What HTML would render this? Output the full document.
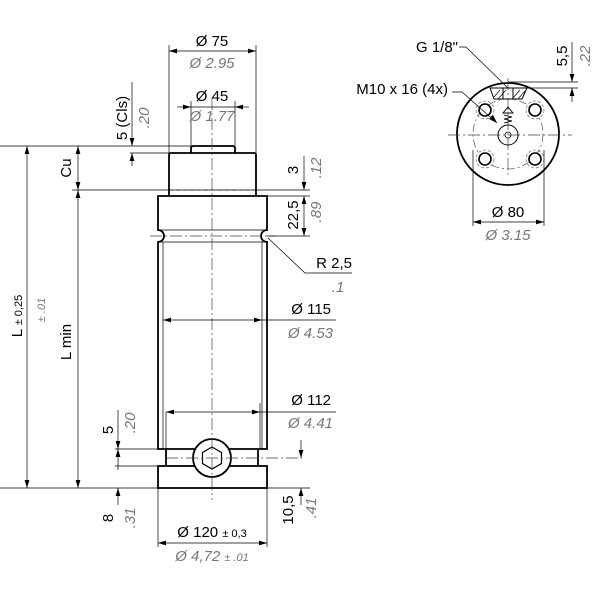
<!DOCTYPE html>
<html><head><meta charset="utf-8"><style>
html,body{margin:0;padding:0;background:#fff}
svg{display:block}
text{font-family:"Liberation Sans",sans-serif;font-size:15px;fill:#000}
.g{fill:#777;font-style:italic}
.s{font-size:11px}
.t{stroke:#000;stroke-width:0.7;fill:none}
.k{stroke:#000;stroke-width:1.8;fill:none}
.c{stroke:#444;stroke-width:0.7;fill:none;stroke-dasharray:12 3 2 3}
.d{stroke:#444;stroke-width:0.8;fill:none;stroke-dasharray:4 3}
</style></head><body>
<svg width="600" height="600" viewBox="0 0 600 600" xmlns="http://www.w3.org/2000/svg">
<defs>
<marker id="a" viewBox="0 0 10 6" refX="10" refY="3" markerWidth="8" markerHeight="5" orient="auto-start-reverse" markerUnits="userSpaceOnUse"><path d="M0,0 L10,3 L0,6 z" fill="#000"/></marker>
</defs>

<!-- main part -->
<path class="k" d="M191,153 L191,148 Q191,146 194,146 L232,146 Q235,146 235,148 L235,153"/>
<path class="k" d="M169,196 L169,155 Q169,153 171,153 L254,153 Q256,153 256,155 L256,196"/>
<line class="d" x1="169" y1="190" x2="256" y2="190"/>
<path class="k" d="M158,230 L158,196 L267,196 L267,230 A6,6 0 0 0 267,242 L267,449 L158,449 L158,242 A6,6 0 0 0 158,230 Z"/>
<line class="t" x1="158" y1="230" x2="267" y2="230"/>
<line class="t" x1="158" y1="242" x2="267" y2="242"/>
<line class="t" x1="163" y1="242" x2="163" y2="449"/>
<line class="t" x1="262" y1="242" x2="262" y2="449"/>
<line class="c" x1="150" y1="236" x2="275" y2="236"/>
<path class="k" d="M166,449 L166,466 M258,449 L258,466"/>
<rect class="k" x="158" y="466" width="109" height="22"/>
<circle cx="212" cy="458" r="19" fill="#fff" stroke="#000" stroke-width="1.8"/>
<polygon class="k" style="stroke-width:1.2" points="212,447 221.5,452.5 221.5,463.5 212,469 202.5,463.5 202.5,452.5"/>
<line class="c" x1="166" y1="458" x2="302" y2="458"/>
<line class="c" x1="212" y1="98" x2="212" y2="500"/>

<!-- Ø75 -->
<line class="t" x1="169" y1="45" x2="169" y2="153"/>
<line class="t" x1="256" y1="45" x2="256" y2="153"/>
<line class="t" x1="169" y1="51" x2="256" y2="51" marker-start="url(#a)" marker-end="url(#a)"/>
<text x="212" y="46" text-anchor="middle">Ø 75</text>
<text x="212" y="68" text-anchor="middle" class="g">Ø 2.95</text>
<!-- Ø45 -->
<line class="t" x1="191" y1="101" x2="191" y2="146"/>
<line class="t" x1="235" y1="101" x2="235" y2="146"/>
<line class="t" x1="177" y1="107" x2="191" y2="107" marker-end="url(#a)"/>
<line class="t" x1="249" y1="107" x2="235" y2="107" marker-end="url(#a)"/>
<line class="t" x1="191" y1="107" x2="235" y2="107"/>
<text x="212" y="101" text-anchor="middle">Ø 45</text>
<text x="212" y="121" text-anchor="middle" class="g">Ø 1.77</text>
<!-- 5 (Cls) -->
<line class="t" x1="0" y1="146" x2="191" y2="146"/>
<line class="t" x1="130" y1="153" x2="169" y2="153"/>
<line class="t" x1="132" y1="82" x2="132" y2="146" marker-end="url(#a)"/>
<line class="t" x1="132" y1="166" x2="132" y2="153" marker-end="url(#a)"/>
<text transform="translate(127,118) rotate(-90)" text-anchor="middle">5 (Cls)</text>
<text transform="translate(149,118) rotate(-90)" text-anchor="middle" class="g">.20</text>

<!-- left dims -->
<line class="t" x1="72" y1="190" x2="310" y2="190"/>
<line class="t" x1="0" y1="488" x2="310" y2="488"/>
<line class="t" x1="27" y1="146" x2="27" y2="488" marker-start="url(#a)" marker-end="url(#a)"/>
<text transform="translate(22,316) rotate(-90)" text-anchor="middle">L <tspan class="s">± 0,25</tspan></text>
<text transform="translate(45,310) rotate(-90)" text-anchor="middle" class="g s">± .01</text>
<line class="t" x1="78" y1="146" x2="78" y2="190" marker-start="url(#a)" marker-end="url(#a)"/>
<line class="t" x1="78" y1="190" x2="78" y2="488" marker-start="url(#a)" marker-end="url(#a)"/>
<text transform="translate(71,168) rotate(-90)" text-anchor="middle">Cu</text>
<text transform="translate(71,342) rotate(-90)" text-anchor="middle">L min</text>
<!-- 5 / .20 bottom -->
<line class="t" x1="115" y1="449" x2="158" y2="449"/>
<line class="t" x1="115" y1="466" x2="158" y2="466"/>
<line class="t" x1="118" y1="410" x2="118" y2="449" marker-end="url(#a)"/>
<line class="t" x1="118" y1="466" x2="118" y2="449" marker-end="url(#a)"/>
<text transform="translate(113,430) rotate(-90)" text-anchor="middle">5</text>
<text transform="translate(135,423) rotate(-90)" text-anchor="middle" class="g">.20</text>
<!-- 8 / .31 -->
<line class="t" x1="118" y1="505" x2="118" y2="488" marker-end="url(#a)"/>
<line class="t" x1="118" y1="466" x2="118" y2="470"/>
<text transform="translate(113,518) rotate(-90)" text-anchor="middle">8</text>
<text transform="translate(135,518) rotate(-90)" text-anchor="middle" class="g">.31</text>

<!-- right dims: 3 / 22,5 -->
<line class="t" x1="267" y1="196" x2="310" y2="196"/>
<line class="t" x1="267" y1="236" x2="310" y2="236"/>
<line class="t" x1="304" y1="156" x2="304" y2="190" marker-end="url(#a)"/>
<line class="t" x1="304" y1="196" x2="304" y2="236" marker-start="url(#a)" marker-end="url(#a)"/>
<text transform="translate(298,170) rotate(-90)" text-anchor="middle">3</text>
<text transform="translate(321,168) rotate(-90)" text-anchor="middle" class="g">.12</text>
<text transform="translate(298,215) rotate(-90)" text-anchor="middle">22,5</text>
<text transform="translate(321,212) rotate(-90)" text-anchor="middle" class="g">.89</text>
<!-- R 2,5 -->
<polyline class="t" points="268,238 305,273 352,273"/>
<text x="352" y="268" text-anchor="end">R 2,5</text>
<text x="338" y="292" text-anchor="middle" class="g">.1</text>
<!-- Ø115 -->
<line class="t" x1="163" y1="320" x2="262" y2="320" marker-start="url(#a)" marker-end="url(#a)"/>
<line class="t" x1="262" y1="320" x2="336" y2="320"/>
<text x="331" y="314" text-anchor="end">Ø 115</text>
<text x="333" y="338" text-anchor="end" class="g">Ø 4.53</text>
<!-- Ø112 -->
<line class="t" x1="166" y1="412" x2="166" y2="449"/>
<line class="t" x1="260" y1="403" x2="260" y2="449"/>
<line class="t" x1="166" y1="412" x2="260" y2="412" marker-start="url(#a)" marker-end="url(#a)"/>
<line class="t" x1="260" y1="412" x2="336" y2="412"/>
<text x="331" y="405" text-anchor="end">Ø 112</text>
<text x="333" y="428" text-anchor="end" class="g">Ø 4.41</text>
<!-- 10,5 -->
<line class="t" x1="301" y1="440" x2="301" y2="458" marker-end="url(#a)"/>
<line class="t" x1="301" y1="505" x2="301" y2="488" marker-end="url(#a)"/>
<text transform="translate(293,510) rotate(-90)" text-anchor="middle">10,5</text>
<text transform="translate(316,508) rotate(-90)" text-anchor="middle" class="g">.41</text>
<!-- Ø120 -->
<line class="t" x1="158" y1="488" x2="158" y2="547"/>
<line class="t" x1="267" y1="488" x2="267" y2="547"/>
<line class="t" x1="158" y1="543" x2="267" y2="543" marker-start="url(#a)" marker-end="url(#a)"/>
<text x="212" y="537" text-anchor="middle">Ø 120 <tspan class="s">± 0,3</tspan></text>
<text x="212" y="561" text-anchor="middle" class="g">Ø 4,72 <tspan class="s">± .01</tspan></text>

<!-- top view -->
<circle cx="508" cy="134" r="51" fill="none" stroke="#000" stroke-width="1.8"/>
<circle cx="508" cy="134" r="35" fill="none" stroke="#555" stroke-width="0.7" stroke-dasharray="8 3 2 3"/>
<line class="c" x1="448" y1="135" x2="572" y2="135"/>
<line class="c" x1="508" y1="78" x2="508" y2="178"/>
<g fill="#fff" stroke="#000" stroke-width="1.6">
<circle cx="485" cy="110" r="6"/><circle cx="535" cy="110" r="6"/>
<circle cx="485" cy="159" r="6"/><circle cx="535" cy="159" r="6"/>
</g>
<g fill="none" stroke="#555" stroke-width="0.6" stroke-dasharray="3 2">
<circle cx="485" cy="110" r="9"/><circle cx="535" cy="110" r="9"/>
<circle cx="485" cy="159" r="9"/><circle cx="535" cy="159" r="9"/>
</g>
<circle cx="508" cy="135" r="10" fill="none" stroke="#000" stroke-width="1"/>
<circle cx="508" cy="135" r="3" fill="none" stroke="#000" stroke-width="0.8"/>
<path d="M490,88 L527,88 L522,99 L494,99 Z" fill="none" stroke="#000" stroke-width="1"/>
<path d="M494,97 L500,90 M498,99 L506,90 M512,99 L520,90 M518,99 L525,91" stroke="#000" stroke-width="0.7"/>
<path d="M503,88 L503,99 M513,88 L513,99" stroke="#000" stroke-width="1"/>
<path d="M503,113 L508,107 L513,113 Z" fill="none" stroke="#000" stroke-width="0.9"/>
<path d="M504,115 L512,117 L504,119 L512,121 L504,123" fill="none" stroke="#000" stroke-width="0.9"/>
<!-- leaders -->
<polyline class="t" points="459,47 466,47 508,88"/>
<text x="458" y="52" text-anchor="end">G 1/8"</text>
<polyline class="t" points="452,92 462,92 497,123" />
<path d="M497,123 L493,115 L489,119 Z" fill="#000"/>
<text x="448" y="94" text-anchor="end">M10 x 16 (4x)</text>
<!-- 5,5 -->
<line class="t" x1="508" y1="82" x2="578" y2="82"/>
<line class="t" x1="508" y1="88" x2="578" y2="88"/>
<line class="t" x1="572" y1="42" x2="572" y2="82" marker-end="url(#a)"/>
<line class="t" x1="572" y1="102" x2="572" y2="88" marker-end="url(#a)"/>
<text transform="translate(567,56) rotate(-90)" text-anchor="middle">5,5</text>
<text transform="translate(590,56) rotate(-90)" text-anchor="middle" class="g">.22</text>
<!-- Ø80 -->
<line class="t" x1="473" y1="150" x2="473" y2="226"/>
<line class="t" x1="544" y1="150" x2="544" y2="226"/>
<line class="t" x1="473" y1="222" x2="544" y2="222" marker-start="url(#a)" marker-end="url(#a)"/>
<text x="508" y="217" text-anchor="middle">Ø 80</text>
<text x="508" y="240" text-anchor="middle" class="g">Ø 3.15</text>
</svg>
</body></html>
